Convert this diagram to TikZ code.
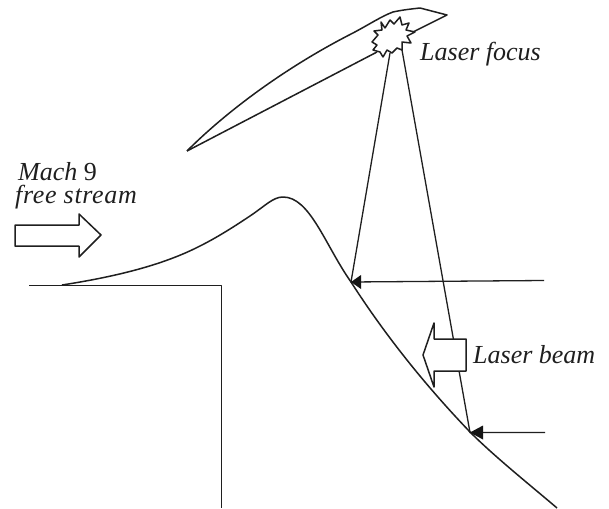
\documentclass[tikz,border=0pt]{standalone}
\usepackage{fontspec}
\setmainfont{Liberation Serif}
\newfontfamily\spacedit[LetterSpace=2.5,ItalicFont={Liberation Serif Italic}]{Liberation Serif}
\begin{document}
\begin{tikzpicture}[x=1pt,y=-1pt,
  ln/.style={draw=black!88,line width=1.5pt,line join=round},
  thin ln/.style={draw=black!88,line width=1.3pt},
  lab/.style={font=\fontsize{26}{28}\selectfont\itshape,anchor=base west,inner sep=0pt,text=black!88},
  tip/.style={fill=black!92,draw=none}]
\useasboundingbox (0,0) rectangle (609,508);
\fill[white] (0,0) rectangle (609,508);
% wing
\coordinate (wt) at (187,151);
\draw[ln] (wt) .. controls (230,108) and (290,65) .. (353,33) .. controls (370,24) and (382,16) .. (393,12) .. controls (402,10) and (411,9) .. (420,8) -- (447,15) -- (405,36);
\draw[ln] (wt) -- (377,52);
% burst
\draw[ln,fill=white] (381,22) -- (385,28) -- (390,20) -- (394,24) -- (400,17) -- (402,25) -- (409,23) -- (406,30) -- (415,32) -- (407,36) -- (411,43) -- (402,42) -- (402,50) -- (397,48) -- (392,53) -- (387,50) -- (383,57) -- (380,52) -- (373,50) -- (377,45) -- (372,42) -- (378,35) -- (374,31) -- (382,30) -- cycle;
% flat plate
\draw[ln,line width=1.9pt] (29,285.5) -- (221.5,285.5) -- (221.5,508);
% surface
\coordinate (p1) at (351,282);
\coordinate (p2) at (470,432.5);
\draw[ln] (62,285) .. controls (120,276) and (165,264) .. (200,246) .. controls (218,237) and (235,226) .. (250,216) .. controls (265,206) and (273,197) .. (283,197) .. controls (310,197) and (325,245) .. (351,282) .. controls (385,335) and (425,385) .. (470,432) .. controls (495,457) and (530,485) .. (557,508);
% beams
\coordinate (f1) at (390,53);
\coordinate (f2) at (402,50);
\coordinate (r1) at (544,280.5);
\coordinate (r2) at (545,432.5);
\draw[thin ln] (r1) -- (p1) -- (f1);
\draw[thin ln] (r2) -- (p2) -- (f2);
\fill[tip] (p1) -- (361,275) -- (361,289) -- cycle;
\fill[tip] (p2) -- (483,425.5) -- (483,439.5) -- cycle;
% laser arrow
\draw[ln,fill=white] (466,339) -- (434,339) -- (434,323) -- (423,355) -- (434,387) -- (434,371) -- (466,371) -- cycle;
% stream arrow
\draw[ln,fill=white] (15,225) -- (79,225) -- (79,214) -- (101,235) -- (79,257) -- (79,246) -- (15,246) -- cycle;
% labels
\node[lab] (lf) at (420,61) {Laser focus};
\node[lab] (lb) at (473,363) {Laser beam};
\node[lab] (m) at (18,180) {Mach {\upshape 9}};
\node[lab,font=\fontsize{26}{28}\selectfont\spacedit\itshape] (fs) at (15,203) {free stream};
\end{tikzpicture}
\end{document}
